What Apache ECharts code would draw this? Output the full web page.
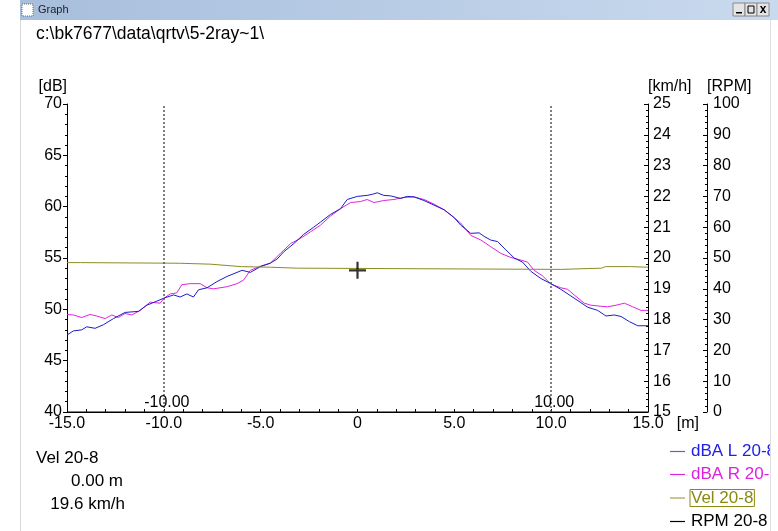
<!DOCTYPE html>
<html><head><meta charset="utf-8">
<script src="https://cdn.jsdelivr.net/npm/echarts@6/dist/echarts.min.js"></script>
<style>html,body{margin:0;padding:0;background:#fff}#c{width:778px;height:531px}</style>
</head><body><div id="c"></div>
<script>
// ---- data ----
const xTicks = [-15, -10, -5, 0, 5, 10, 15];
const dbaLX = [-15,-14.67,-14.24,-13.98,-13.55,-13.12,-12.6,-12.0,-11.31,-10.88,-10.36,-9.98,-9.5,-9.15,-8.81,-8.47,-8.21,-7.77,-7.26,-6.74,-5.96,-5.53,-5.02,-4.5,-4.15,-3.81,-3.29,-2.78,-2.26,-1.91,-1.39,-0.88,-0.53,-0.01,0.5,0.76,1.02,1.36,1.71,2.23,2.57,2.92,3.43,3.95,4.47,4.98,5.33,5.85,6.28,6.54,6.88,7.23,7.66,8.09,8.52,8.95,9.47,9.99,10.5,11.02,11.54,11.89,12.4,12.83,13.26,13.61,14.04,14.47,15];
const dbaL  = [47.5,47.9,48.0,48.3,48.15,48.5,49.1,49.7,49.8,50.4,50.8,51.1,51.4,51.2,51.5,51.2,51.9,52.1,52.7,53.2,53.8,53.6,54.15,54.5,54.9,55.6,56.4,57.3,58.0,58.5,59.25,59.8,60.7,61.0,61.1,61.2,61.35,61.1,61.05,60.8,61.0,60.95,60.6,60.15,59.7,58.95,58.2,57.4,57.45,57.1,56.75,56.6,55.8,55.0,54.6,53.7,53.0,52.5,51.95,51.3,50.65,50.2,49.9,49.35,49.45,49.3,48.8,48.4,48.4];
const dbaRX = [-15,-14.67,-14.24,-13.81,-13.46,-13.03,-12.69,-12.35,-12.0,-11.65,-11.22,-10.71,-10.19,-9.98,-9.67,-9.33,-9.07,-8.64,-8.12,-7.77,-7.43,-6.74,-6.22,-5.88,-5.53,-5.02,-4.5,-3.98,-3.46,-2.95,-2.43,-1.91,-1.39,-0.88,-0.36,0.16,0.5,0.85,1.36,1.88,2.4,2.92,3.43,3.95,4.47,4.98,5.33,5.85,6.37,6.88,7.4,7.92,8.43,8.78,9.12,9.56,9.99,10.5,10.85,11.19,11.71,12.06,12.57,12.92,13.35,13.78,14.21,14.64,15];
const dbaR  = [49.5,49.45,49.2,49.5,49.35,49.1,49.45,49.2,49.6,49.45,49.9,50.7,50.6,51.1,51.5,51.6,52.4,52.5,52.5,52.1,52.0,52.2,52.5,52.85,53.8,54.2,54.5,55.45,56.4,56.9,57.55,58.2,59.1,59.8,60.4,60.5,60.7,60.4,60.6,60.7,60.9,60.95,60.7,60.25,59.7,58.95,58.4,57.2,56.75,56.1,55.45,55.05,54.8,54.6,53.8,53.25,52.45,52.1,51.95,51.4,50.6,50.4,50.3,50.25,50.4,50.6,50.25,49.9,49.9];
const velX  = [-15,-14.3,-14.2,-9.2,-9.1,-7.6,-7.5,-6.0,-4.5,-3.1,-3.0,10.5,10.6,12.6,12.8,14.1,15];
const vel   = [19.85,19.85,19.83,19.83,19.80,19.80,19.76,19.72,19.70,19.67,19.63,19.63,19.67,19.67,19.72,19.72,19.70];
const rpmX  = [-15, 15];
const rpm   = [0, 0];
const markerX = [-10, 10];
const cursorX = 0;
const cursorVel = 19.6;
const seriesNames = ['dBA L 20-8', 'dBA R 20-8', 'Vel 20-8', 'RPM 20-8'];
const filePath = 'c:\\bk7677\\data\\qrtv\\5-2ray~1\\';

// ---- chart ----
const FONT = 'Liberation Sans, Arial, sans-serif';
const pairs = (xs, ys) => xs.map((x, i) => [x, ys[i]]);
const chart = echarts.init(document.getElementById('c'), null, {renderer: 'canvas'});
const axisCommon = {
  axisLine: {show: true, onZero: false, lineStyle: {color: '#000', width: 1}},
  splitLine: {show: false},
  axisLabel: {color: '#000', fontSize: 16, fontFamily: FONT},
  nameTextStyle: {color: '#000', fontSize: 16, fontFamily: FONT}
};
const C = {L: '#1c1cc4', R: '#e024e0', V: '#8c8c22', P: '#000'};
chart.setOption({
  animation: false,
  backgroundColor: '#fff',
  grid: {left: 67, right: 130, top: 104, bottom: 119, containLabel: false},
  xAxis: Object.assign({}, axisCommon, {
    type: 'value', min: -15, max: 15, interval: 5,
    name: '[m]', nameLocation: 'end', nameGap: 20,
    nameTextStyle: {color: '#000', fontSize: 16, fontFamily: FONT, align: 'left', verticalAlign: 'top', padding: [4, 0, 0, 0]},
    axisTick: {show: true, inside: true, length: 3, lineStyle: {color: '#000'}},
    minorTick: {show: true, splitNumber: 5, length: 3, lineStyle: {color: '#000'}},
    axisLabel: {color: '#000', fontSize: 16, fontFamily: FONT, margin: 4,
      formatter: v => (v === 0 ? '0' : v.toFixed(1))}
  }),
  yAxis: [
    Object.assign({}, axisCommon, {
      type: 'value', position: 'left', min: 40, max: 70, interval: 5,
      name: '[dB]', nameLocation: 'end', nameGap: 17,
      nameTextStyle: {color: '#000', fontSize: 16, fontFamily: FONT, align: 'right', verticalAlign: 'middle'},
      axisTick: {show: true, inside: false, length: 4, lineStyle: {color: '#000'}},
      minorTick: {show: true, splitNumber: 5, length: 2, lineStyle: {color: '#000'}},
      axisLabel: {color: '#000', fontSize: 16, fontFamily: FONT, margin: 5}
    }),
    Object.assign({}, axisCommon, {
      type: 'value', position: 'right', offset: 0, min: 15, max: 25, interval: 1,
      name: '[km/h]', nameLocation: 'end', nameGap: 17,
      nameTextStyle: {color: '#000', fontSize: 16, fontFamily: FONT, align: 'left', verticalAlign: 'middle'},
      axisTick: {show: true, inside: true, length: 4, lineStyle: {color: '#000'}},
      minorTick: {show: true, splitNumber: 5, length: 2, lineStyle: {color: '#000'}},
      axisLabel: {color: '#000', fontSize: 16, fontFamily: FONT, margin: 5}
    }),
    Object.assign({}, axisCommon, {
      type: 'value', position: 'right', offset: 59, min: 0, max: 100, interval: 10,
      name: '[RPM]', nameLocation: 'end', nameGap: 17,
      nameTextStyle: {color: '#000', fontSize: 16, fontFamily: FONT, align: 'left', verticalAlign: 'middle'},
      axisTick: {show: true, inside: true, length: 4, lineStyle: {color: '#000'}},
      minorTick: {show: true, splitNumber: 5, length: 2, lineStyle: {color: '#000'}},
      axisLabel: {color: '#000', fontSize: 16, fontFamily: FONT, margin: 6}
    })
  ],
  legend: {
    orient: 'vertical', left: 670, top: 443, padding: 0, height: 88,
    itemWidth: 15, itemHeight: 1.2, itemGap: 6,
    icon: 'rect',
    textStyle: {fontSize: 17, fontFamily: FONT, lineHeight: 17, padding: [0, 1]},
    selectedMode: false,
    data: [
      {name: seriesNames[0], textStyle: {color: '#2020e8'}},
      {name: seriesNames[1], textStyle: {color: '#e020e0'}},
      {name: seriesNames[2], textStyle: {color: '#8a8a12', borderColor: '#8a8a12', borderWidth: 1}},
      {name: seriesNames[3], textStyle: {color: '#000'}}
    ]
  },
  series: [
    {name: seriesNames[0], type: 'line', yAxisIndex: 0, data: pairs(dbaLX, dbaL), symbol: 'none',
     lineStyle: {color: C.L, width: 1}, itemStyle: {color: '#5a64c8'}, z: 3,
     markLine: {silent: true, symbol: 'none', label: {show: false},
       lineStyle: {color: '#555', width: 1.5, type: [2, 2]},
       data: markerX.map(x => ({xAxis: x}))},
     markPoint: {silent: true, symbol: 'rect', symbolSize: 0,
       label: {show: true, color: '#000', fontSize: 16, fontFamily: FONT, offset: [3, -9], formatter: p => p.data.coord[0].toFixed(2)},
       data: markerX.map(x => ({coord: [x, 40]}))}
    },
    {name: seriesNames[1], type: 'line', yAxisIndex: 0, data: pairs(dbaRX, dbaR), symbol: 'none',
     lineStyle: {color: C.R, width: 1}, itemStyle: {color: C.R}, z: 2},
    {name: seriesNames[2], type: 'line', yAxisIndex: 1, data: pairs(velX, vel), symbol: 'none',
     lineStyle: {color: C.V, width: 1}, itemStyle: {color: '#a0a050'}},
    {name: seriesNames[3], type: 'line', yAxisIndex: 2, data: pairs(rpmX, rpm), symbol: 'none',
     lineStyle: {color: C.P, width: 1}, itemStyle: {color: C.P}},
    {name: 'cursor', type: 'scatter', yAxisIndex: 1, data: [[cursorX, cursorVel]], silent: true,
     symbol: 'path://M4.35,0h1.3v4.35h4.35v1.3h-4.35v4.35h-1.3v-4.35h-4.35v-1.3h4.35z', symbolSize: 17,
     itemStyle: {color: '#000'}, z: 10}
  ],
  graphic: [
    {type: 'rect', shape: {x: 20, y: 0, width: 758, height: 20}, z: 100,
     style: {fill: new echarts.graphic.LinearGradient(0, 0, 1, 0, [{offset: 0, color: '#a7bedc'}, {offset: 1, color: '#c9daee'}])}},
    {type: 'rect', shape: {x: 22, y: 4, width: 11, height: 12}, z: 101, style: {fill: '#fff', stroke: '#666', lineWidth: 1, lineDash: [1, 1]}},
    {type: 'text', x: 38, y: 10, z: 101, style: {text: 'Graph', font: '11px ' + FONT, fill: '#222', verticalAlign: 'middle'}},
    {type: 'rect', shape: {x: 733, y: 3, width: 12, height: 13}, z: 101, style: {fill: '#e4e4e4', stroke: '#888'}},
    {type: 'rect', shape: {x: 745, y: 3, width: 12, height: 13}, z: 101, style: {fill: '#e4e4e4', stroke: '#888'}},
    {type: 'rect', shape: {x: 757, y: 3, width: 12, height: 13}, z: 101, style: {fill: '#e4e4e4', stroke: '#888'}},
    {type: 'rect', shape: {x: 736, y: 12, width: 6, height: 1.5}, z: 102, style: {fill: '#000'}},
    {type: 'rect', shape: {x: 748, y: 6, width: 6, height: 7}, z: 102, style: {fill: 'none', stroke: '#000', lineWidth: 1}},
    {type: 'text', x: 763, y: 10, z: 102, style: {text: 'x', font: 'bold 12px ' + FONT, fill: '#000', align: 'center', verticalAlign: 'middle'}},
    {type: 'line', shape: {x1: 20.5, y1: 20, x2: 20.5, y2: 531}, z: 100, style: {stroke: '#d8d8d8', lineWidth: 1}},
    {type: 'rect', shape: {x: 770, y: 20, width: 8, height: 511}, z: 100, style: {fill: '#fff'}},
    {type: 'line', shape: {x1: 770.5, y1: 20, x2: 770.5, y2: 531}, z: 100, style: {stroke: '#e0e0e0', lineWidth: 1}},
    {type: 'text', x: 36, y: 34, z: 100, style: {text: filePath, font: '17.5px ' + FONT, fill: '#000', verticalAlign: 'middle'}},
    {type: 'text', x: 36, y: 458, z: 100, style: {text: seriesNames[2], font: '17px ' + FONT, fill: '#000', verticalAlign: 'middle'}},
    {type: 'text', x: 123, y: 481, z: 100, style: {text: cursorX.toFixed(2) + ' m', font: '17px ' + FONT, fill: '#000', align: 'right', verticalAlign: 'middle'}},
    {type: 'text', x: 125, y: 504, z: 100, style: {text: cursorVel.toFixed(1) + ' km/h', font: '17px ' + FONT, fill: '#000', align: 'right', verticalAlign: 'middle'}}
  ]
});
</script>
</body></html>
